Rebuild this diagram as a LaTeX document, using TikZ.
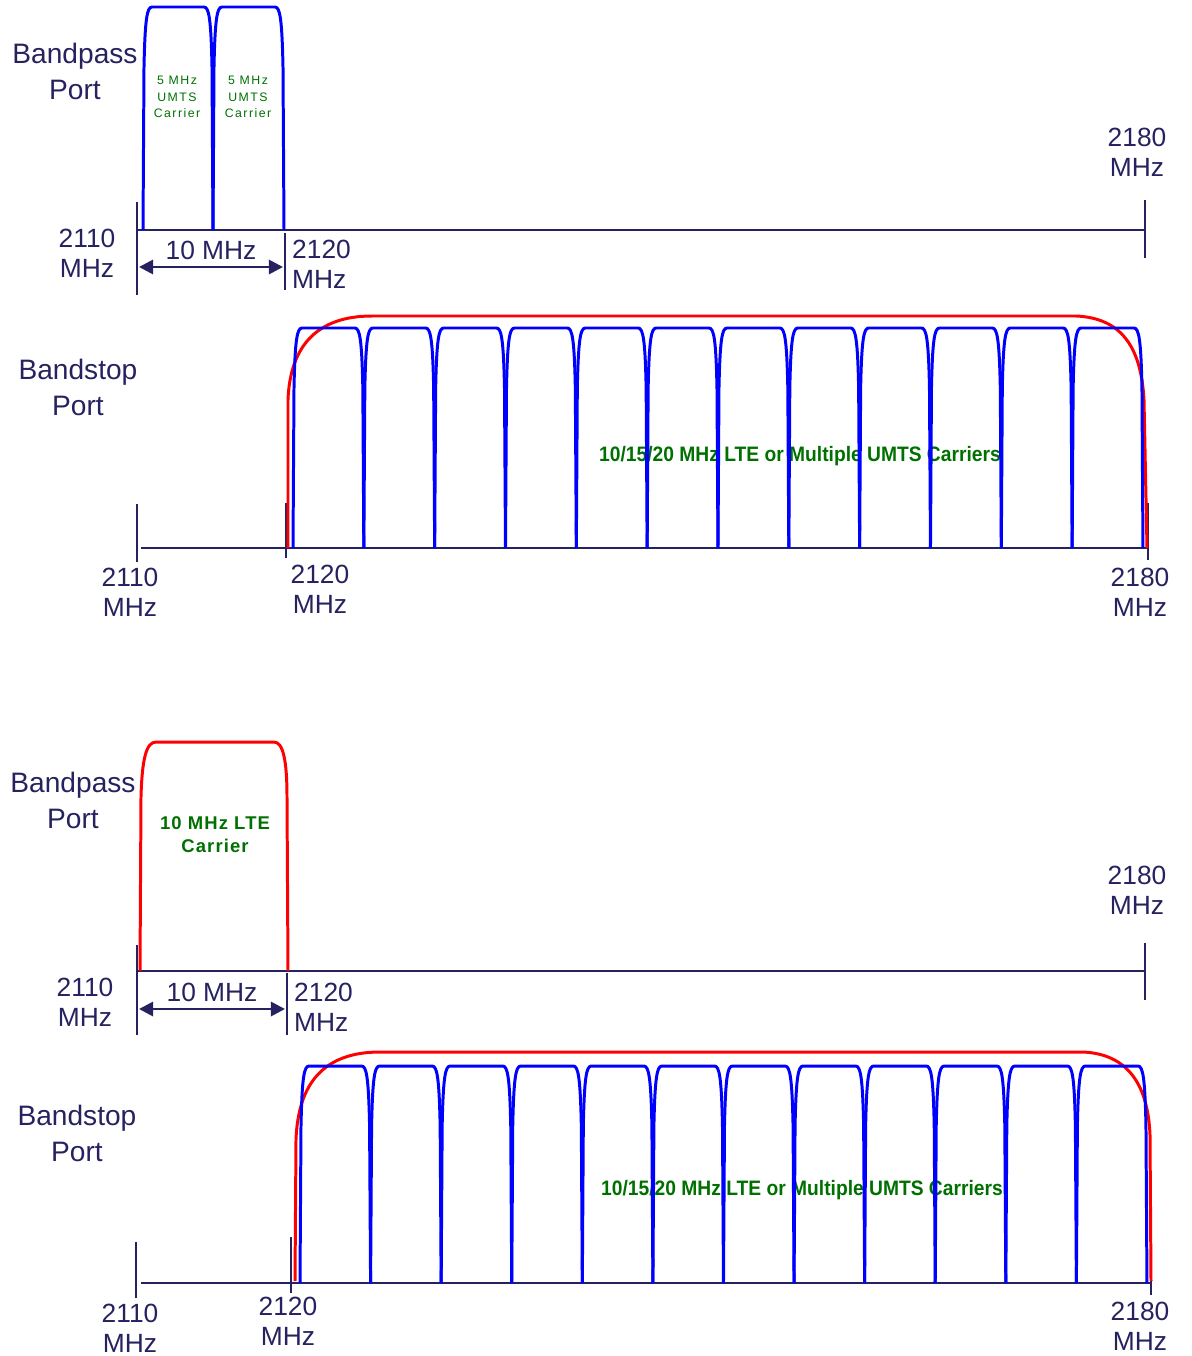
\documentclass[tikz,border=0pt]{standalone}
\usepackage{graphicx}
\usepackage{fontspec}
\setmainfont{Liberation Sans}
\newfontfamily\widesans[LetterSpace=12]{Liberation Sans}
\newfontfamily\boldwide[LetterSpace=6]{Liberation Sans}
\usetikzlibrary{arrows.meta}

\definecolor{navy}{RGB}{38,34,96}
\definecolor{tracecol}{RGB}{0,0,255}
\definecolor{maskcol}{RGB}{255,0,0}
\definecolor{leaf}{RGB}{0,112,0}

% one filter passband: left x, right x, top y, base y
\newcommand{\bandshape}[4]{%
  \draw[bluetrace] (#1,#4) -- ({#1+1},{#3+60})
    .. controls ({#1+2},{#3+12}) and ({#1+4},#3) .. ({#1+9},#3) -- ({#2-9},#3)
    .. controls ({#2-4},#3) and ({#2-2},{#3+12}) .. ({#2-1},{#3+60}) -- (#2,#4);}

\begin{document}
\begin{tikzpicture}[x=0.02cm, y=-0.02cm,
    axisline/.style={navy, line width=1.6pt},
    bluetrace/.style={tracecol, line width=1.7pt, line join=round},
    redmask/.style={maskcol, line width=1.7pt, line join=round},
    dimarrow/.style={navy, line width=1.6pt, {Triangle[length=8pt,width=8pt]}-{Triangle[length=8pt,width=8pt]}},
    port/.style={navy, align=center, font=\fontsize{16}{20.5}\selectfont},
    freq/.style={navy, align=center, font=\fontsize{15}{17}\selectfont},
    note/.style={leaf, font=\bfseries\fontsize{11.9}{14}\selectfont},
    smallnote/.style={leaf, align=center, font=\widesans\fontsize{7}{9.4}\selectfont},
    ltenote/.style={leaf, align=center, font=\boldwide\bfseries\fontsize{10.5}{13}\selectfont}]
    \useasboundingbox (0,0) rectangle (1191,1356);

    % ---------- Panel 1: bandpass port, two UMTS carriers ----------
    % Draw axes
    \draw[axisline] (137,230) -- (1145,230);
    \draw[axisline] (137,202) -- (137,295);
    \draw[axisline] (285,233) -- (285,290);
    \draw[axisline] (1145,200) -- (1145,258);
    \coordinate (lo1) at (139,267);
    \coordinate (hi1) at (283,267);
    \draw[dimarrow] (lo1) -- node[freq, above=0pt] (span1) {10 MHz} (hi1);

    % Carriers
    \bandshape{143}{213}{7}{230}
    \bandshape{213}{284}{7}{230}
    \node[smallnote] (umtsa) at (177,97) {5 MHz\\UMTS\\Carrier};
    \node[smallnote] (umtsb) at (248,97) {5 MHz\\UMTS\\Carrier};

    % Labels
    \node[port] (bp1) at (75,71) {Bandpass\\Port};
    \node[freq] (fa1) at (87,253) {2110\\MHz};
    \node[freq, anchor=west, align=left] (fb1) at (286,264) {2120\\MHz};
    \node[freq] (fc1) at (1137,152) {2180\\MHz};

    % ---------- Panel 2: bandstop port ----------
    % Draw axes
    \draw[axisline] (141,548) -- (1148,548);
    \draw[axisline] (137,504) -- (137,562);
    \draw[axisline] (286,503) -- (286,558);
    \draw[axisline] (1148,503) -- (1148,560);

    \node[note] (lte1) at (800,456) {\scalebox{0.92}[1]{10/15/20 MHz LTE or Multiple UMTS Carriers}};

    % Bandstop mask
    \draw[redmask] (288,548) -- (288,400) .. controls (290,345) and (318,316) .. (372,316)
        -- (1076,316) .. controls (1120,318) and (1141,345) .. (1144,400) -- (1147,548);

    % Channels
    \foreach \i in {0,...,11} {
        \pgfmathsetmacro\xa{293+\i*70.83}
        \pgfmathsetmacro\xb{293+(\i+1)*70.83}
        \bandshape{\xa}{\xb}{328}{548}
    }

    % Labels
    \node[port] (bs1) at (78,387) {Bandstop\\Port};
    \node[freq] (fa2) at (130,592) {2110\\MHz};
    \node[freq] (fb2) at (320,589) {2120\\MHz};
    \node[freq] (fc2) at (1140,592) {2180\\MHz};

    % ---------- Panel 3: bandpass port, one LTE carrier ----------
    % Draw axes
    \draw[axisline] (137,971) -- (1145,971);
    \draw[axisline] (137,945) -- (137,1035);
    \draw[axisline] (287,973) -- (287,1035);
    \draw[axisline] (1145,943) -- (1145,1000);
    \coordinate (lo3) at (139,1009);
    \coordinate (hi3) at (285,1009);
    \draw[dimarrow] (lo3) -- node[freq, above=0pt] (span3) {10 MHz} (hi3);

    % Carrier
    \draw[redmask] (140,971) -- (141,797) .. controls (142,760) and (146,742) .. (156,742)
        -- (274,742) .. controls (283,742) and (287,760) .. (287,797) -- (288,971);
    \node[ltenote] (lte2) at (215,835) {10 MHz LTE\\Carrier};

    % Labels
    \node[port] (bp3) at (73,800) {Bandpass\\Port};
    \node[freq] (fa3) at (85,1002) {2110\\MHz};
    \node[freq, anchor=west, align=left] (fb3) at (288,1007) {2120\\MHz};
    \node[freq] (fc3) at (1137,890) {2180\\MHz};

    % ---------- Panel 4: bandstop port ----------
    % Draw axes
    \draw[axisline] (141,1283) -- (1151,1283);
    \draw[axisline] (136,1242) -- (136,1298);
    \draw[axisline] (291,1237) -- (291,1293);
    \draw[axisline] (1151,1237) -- (1151,1295);

    \node[note] (lte4) at (802,1190) {\scalebox{0.92}[1]{10/15/20 MHz LTE or Multiple UMTS Carriers}};

    % Bandstop mask
    \draw[redmask] (295,1281) -- (296,1140) .. controls (298,1082) and (325,1052) .. (380,1052)
        -- (1083,1052) .. controls (1128,1054) and (1148,1085) .. (1150,1135) -- (1151,1281);

    % Channels
    \foreach \i in {0,...,11} {
        \pgfmathsetmacro\xa{300+\i*70.58}
        \pgfmathsetmacro\xb{300+(\i+1)*70.58}
        \bandshape{\xa}{\xb}{1066}{1283}
    }

    % Labels
    \node[port] (bs4) at (77,1133) {Bandstop\\Port};
    \node[freq] (fa4) at (130,1328) {2110\\MHz};
    \node[freq] (fb4) at (288,1321) {2120\\MHz};
    \node[freq] (fc4) at (1140,1326) {2180\\MHz};
\end{tikzpicture}
\end{document}
